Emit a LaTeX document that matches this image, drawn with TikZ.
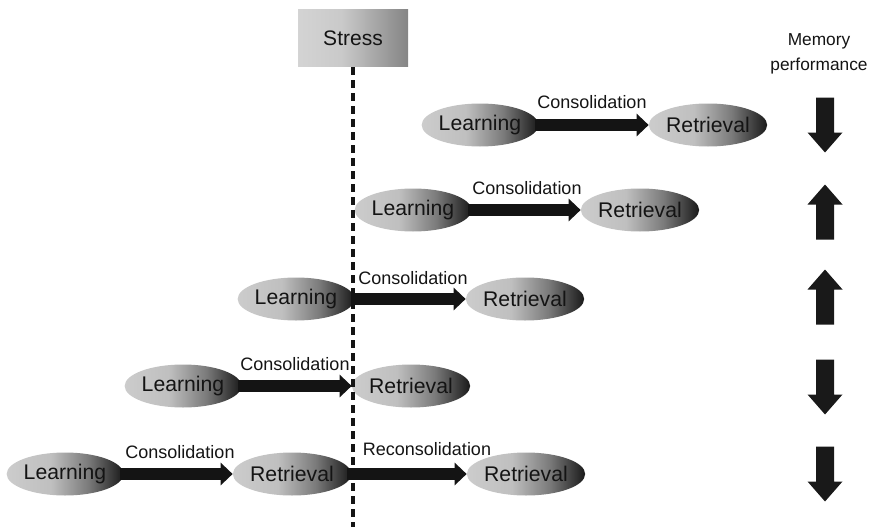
\documentclass[tikz,border=0pt]{standalone}
\usepackage{fontspec}
\setmainfont{Liberation Sans}
\usetikzlibrary{arrows.meta,shapes.geometric}
\pgfdeclarehorizontalshading{ellshade}{100bp}{rgb(0bp)=(.80,.80,.80); rgb(25bp)=(.80,.80,.80); rgb(44bp)=(.75,.75,.75); rgb(60bp)=(.48,.48,.48); rgb(75bp)=(.10,.10,.10); rgb(100bp)=(.10,.10,.10)}
\pgfdeclarehorizontalshading{boxshade}{100bp}{rgb(0bp)=(.83,.83,.83); rgb(25bp)=(.83,.83,.83); rgb(45bp)=(.79,.79,.79); rgb(75bp)=(.52,.52,.52); rgb(100bp)=(.52,.52,.52)}
\tikzset{
  ell/.style={ellipse, shading=ellshade, minimum width=114pt, minimum height=43pt, inner sep=0pt,
    font=\fontsize{21.2}{25}\selectfont, text=black!92},
  lbl/.style={font=\fontsize{18}{22}\selectfont, text=black!92, inner sep=0pt},
  conn/.style={line width=11.5pt, draw=black!92, -{Triangle[width=22pt,length=12pt]}},
  dashln/.style={line width=3.4pt, draw=black!92, dash pattern=on 8pt off 5pt},
  downarr/.pic={\fill[black!90] (-9,-27.5) -- (9,-27.5) -- (9,7.5) -- (17.5,7.5) -- (0,27.5) -- (-17.5,7.5) -- (-9,7.5) -- cycle;},
  uparr/.pic={\fill[black!90] (-9,27.5) -- (9,27.5) -- (9,-7.5) -- (17.5,-7.5) -- (0,-27.5) -- (-17.5,-7.5) -- (-9,-7.5) -- cycle;}
}
\begin{document}
\begin{tikzpicture}[x=1pt,y=-1pt]
\useasboundingbox (0,0) rectangle (873,527);
% stress box
\node[shading=boxshade, minimum width=110pt, minimum height=57pt, inner sep=0pt,
  font=\fontsize{21}{25}\selectfont, text=black!92] (stress) at (353,38.5) {Stress};
\node[align=center, font=\fontsize{17.3}{25}\selectfont, text=black!92, inner sep=0pt] (mem) at (819,54) {Memory\\performance};
% row 1
\node[ell] (L1) at (480,125) {Learning};
\node[ell] (R1) at (708,125) {Retrieval};
\node[lbl] (c1) at (592,102) {Consolidation};
\draw[conn] ([xshift=-4pt]L1.east) -- (R1.west);
% row 2
\node[ell] (L2) at (413,210) {Learning};
\node[ell] (R2) at (640,210) {Retrieval};
\node[lbl] (c2) at (527,188) {Consolidation};
\draw[conn] ([xshift=-4pt]L2.east) -- (R2.west);
% row 3
\node[ell] (L3) at (296,299) {Learning};
\node[ell] (R3) at (525,299) {Retrieval};
\node[lbl] (c3) at (413,278) {Consolidation};
\draw[conn] ([xshift=-4pt]L3.east) -- (R3.west);
% row 4
\node[ell] (L4) at (183,386) {Learning};
\node[ell] (R4) at (411,386) {Retrieval};
\node[lbl] (c4) at (295,364) {Consolidation};
\draw[conn] ([xshift=-4pt]L4.east) -- (R4.west);
% row 5
\node[ell] (L5) at (65,474) {Learning};
\node[ell] (R5) at (292,474) {Retrieval};
\node[ell] (R6) at (526,474) {Retrieval};
\node[lbl] (c5) at (180,452) {Consolidation};
\node[lbl] (c6) at (427,449) {Reconsolidation};
\draw[conn] ([xshift=-4pt]L5.east) -- (R5.west);
\draw[conn] ([xshift=-4pt]R5.east) -- (R6.west);
% dashed stress line
\coordinate (bot) at (353,527);
\draw[dashln] (stress.south) -- (bot);
% memory performance arrows
\pic at (825,125) {downarr};
\pic at (825,212) {uparr};
\pic at (825,297) {uparr};
\pic at (825,387) {downarr};
\pic at (825,474) {downarr};
\end{tikzpicture}
\end{document}
